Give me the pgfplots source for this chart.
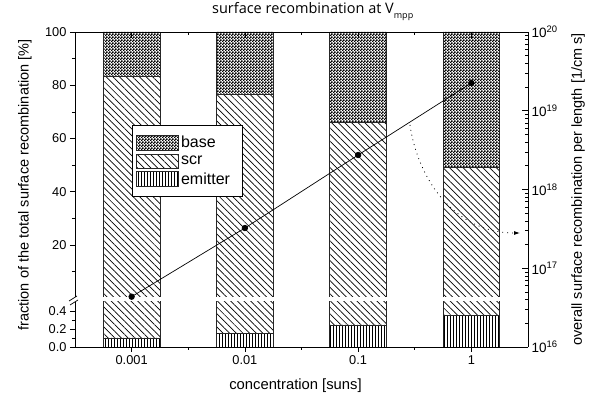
\documentclass[border=0pt]{standalone}
\usepackage{fontspec}
\setmainfont{Liberation Sans}
\newfontfamily\titlefont{Open Sans}
\usepackage{pgfplots}
\pgfplotsset{compat=1.18}
\usetikzlibrary{patterns,patterns.meta,arrows.meta}

\pgfdeclarepatternformonly{fchecker}{\pgfqpoint{0pt}{0pt}}{\pgfqpoint{3pt}{3pt}}{\pgfqpoint{3pt}{3pt}}{%
  \pgfpathrectangle{\pgfqpoint{0pt}{0pt}}{\pgfqpoint{1.85pt}{1.85pt}}%
  \pgfpathrectangle{\pgfqpoint{1.5pt}{1.5pt}}{\pgfqpoint{1.85pt}{1.85pt}}%
  \pgfpathrectangle{\pgfqpoint{-1.5pt}{1.5pt}}{\pgfqpoint{0.35pt}{1.85pt}}%
  \pgfpathrectangle{\pgfqpoint{1.5pt}{-1.5pt}}{\pgfqpoint{1.85pt}{0.35pt}}%
  \pgfusepath{fill}}

\tikzset{
  basestyle/.style={pattern=fchecker, draw=black!85, line width=0.8pt},
  scrstyle/.style={pattern={Lines[angle=-45,distance=4.7pt,line width=0.7pt]}, draw=black!85, line width=0.8pt},
  emstyle/.style={pattern={Lines[angle=90,distance=3pt,line width=0.6pt]}, draw=black!85, line width=0.8pt},
}

\pgfplotsset{
  common/.style={
    scale only axis, width=453pt, xmin=-0.5, xmax=3.5, anchor=south west,
    /pgf/number format/assume math mode=true,
    tick label style={font=\fontsize{12.8}{14}\selectfont},
    major tick length=5pt, minor tick length=3pt,
    axis line style={-, black, line width=0.7pt},
    tick style={black, line width=0.6pt},
  },
}

\begin{document}
\begin{tikzpicture}
\path[use as bounding box] (0pt,0pt) rectangle (591pt,396pt);

% upper part of the left axis (percent)
\begin{axis}[common, at={(75pt,99pt)}, height=265pt,
  ymin=0.5, ymax=100,
  axis y line*=left, axis x line=none, tick align=outside,
  ytick={20,40,60,80,100}, minor ytick={10,30,50,70,90},
  ybar stacked, bar width=0.5,
  ylabel={fraction of the total surface recombination [\%]},
  ylabel style={at={(axis description cs:-0.1104,0.4226)}, anchor=center, font=\fontsize{14.5}{16}\selectfont},
  legend style={at={(0.1258,0.649)}, anchor=north west, draw=black, line width=0.6pt, fill=white,
    font=\fontsize{16}{18}\selectfont, inner xsep=3.5pt, inner ysep=9.5pt, row sep=3pt,
    nodes={inner xsep=2.5pt, inner ysep=1pt}},
  legend cell align=left,
]
\addplot[scrstyle, forget plot] coordinates {(0,83.5) (1,76.4) (2,65.9) (3,49.0)};
\addplot[basestyle, forget plot] coordinates {(0,16.5) (1,23.6) (2,34.1) (3,51.0)};
\addlegendimage{legend image code/.code={\draw[basestyle] (0pt,-7.5pt) rectangle (42pt,7.5pt);}}
\addlegendentry{base}
\addlegendimage{legend image code/.code={\draw[scrstyle] (0pt,-7pt) rectangle (42pt,7pt);}}
\addlegendentry{scr}
\addlegendimage{legend image code/.code={\draw[emstyle] (0pt,-7.5pt) rectangle (42pt,7.5pt);}}
\addlegendentry{emitter\hspace*{6pt}}
\end{axis}

% lower part of the left axis (percent)
\begin{axis}[common, at={(75pt,49pt)}, height=45pt,
  ymin=0, ymax=0.5,
  axis y line*=left, axis x line*=bottom, tick align=outside,
  ytick={0,0.2,0.4}, yticklabels={0.0,0.2,0.4}, minor ytick={0.1,0.3},
  xtick={0,1,2,3}, xticklabels={0.001,0.01,0.1,1}, minor xtick={0.5,1.5,2.5},
  ybar stacked, bar width=0.5,
]
\addplot[emstyle] coordinates {(0,0.10) (1,0.155) (2,0.245) (3,0.35)};
\addplot[scrstyle] coordinates {(0,1) (1,1) (2,1) (3,1)};
\end{axis}

% right log axis (overall surface recombination)
\begin{axis}[common, at={(75pt,49pt)}, height=315pt,
  ymode=log, ymin=1e16, ymax=1e20,
  axis y line*=right, axis x line*=top, tick align=inside,
  major tick length=6pt,
  xtick={0,1,2,3}, xticklabels={}, minor xtick={0.5,1.5,2.5},
  ytick={1e16,1e17,1e18,1e19,1e20},
  yticklabels={10\textsuperscript{16},10\textsuperscript{17},10\textsuperscript{18},10\textsuperscript{19},10\textsuperscript{20}},
  yticklabel style={font=\fontsize{13.5}{15}\selectfont},
  minor ytick={2e16,3e16,4e16,5e16,6e16,7e16,8e16,9e16,
               2e17,3e17,4e17,5e17,6e17,7e17,8e17,9e17,
               2e18,3e18,4e18,5e18,6e18,7e18,8e18,9e18,
               2e19,3e19,4e19,5e19,6e19,7e19,8e19,9e19},
  ylabel={overall surface recombination per length [1/cm s]},
  ylabel style={at={(axis description cs:1.1104,0.5)}, anchor=center, font=\fontsize{14.5}{16}\selectfont},
  xlabel={concentration [suns]},
  xlabel style={at={(axis description cs:0.5,0)}, anchor=base, yshift=-43pt, xshift=-6pt, font=\fontsize{14.8}{16}\selectfont},
  title={surface recombination at V\rlap{\raisebox{-5pt}{\fontsize{9}{9}\selectfont mpp}}},
  title style={at={(axis description cs:0.5,1)}, anchor=base, yshift=12pt, xshift=1.5pt, font=\titlefont\fontsize{14.5}{16}\selectfont},
]
\addplot[black, line width=0.7pt, mark=*, mark size=2.8pt, mark options={fill=black}]
  coordinates {(0,4.35e16) (1,3.24e17) (2,2.74e18) (3,2.25e19)};
\end{axis}

% axis break marks
\draw[black, line width=0.7pt] (69pt,95pt) -- (77pt,100pt);
\draw[black, line width=0.7pt] (70pt,91pt) -- (78pt,96pt);

% dotted arrow pointing to the right axis
\draw[black, line width=0.8pt, dash pattern=on 0.9pt off 4pt, -{Latex[length=6pt,width=4pt]}]
  (410pt,271pt) .. controls (418pt,216pt) and (455pt,163pt) .. (520pt,163pt);
\end{tikzpicture}
\end{document}
